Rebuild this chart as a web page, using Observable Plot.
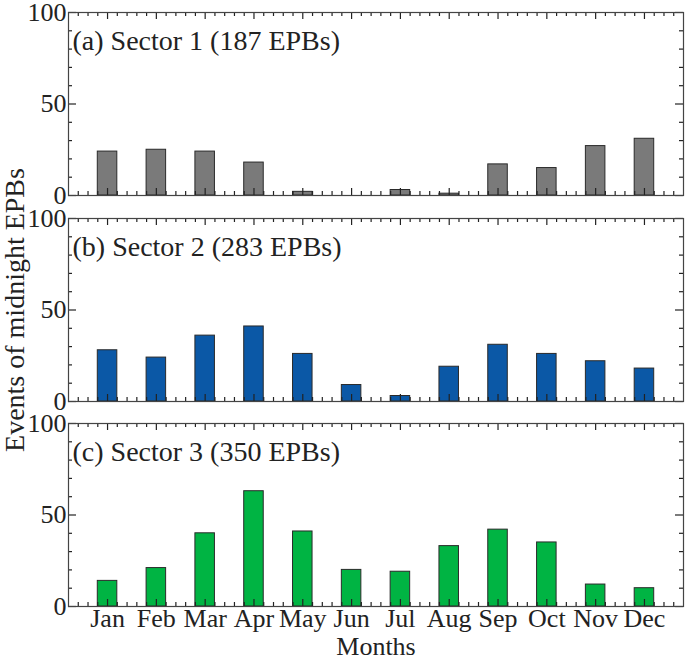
<!DOCTYPE html>
<html>
<head>
<meta charset="utf-8">
<script src="https://cdn.jsdelivr.net/npm/d3@7"></script>
<script src="https://cdn.jsdelivr.net/npm/@observablehq/plot@0.6"></script>
<style>
  body { margin: 0; background: #fff; }
  #chart { position: relative; width: 685px; height: 658px; }
  #chart svg { position: absolute; left: 0; overflow: visible; }
</style>
</head>
<body>
<div id="chart"></div>
<script>
var months = ['Jan', 'Feb', 'Mar', 'Apr', 'May', 'Jun', 'Jul', 'Aug', 'Sep', 'Oct', 'Nov', 'Dec'];
var sector1 = [24, 25, 24, 18, 2, 0, 3, 1, 17, 15, 27, 31];
var sector2 = [28, 24, 36, 41, 26, 9, 3, 19, 31, 26, 22, 18];
var sector3 = [14, 21, 40, 63, 41, 20, 19, 33, 42, 35, 12, 10];
var titles = ['(a) Sector 1 (187 EPBs)', '(b) Sector 2 (283 EPBs)', '(c) Sector 3 (350 EPBs)'];
var colors = ['#7a7a7a', '#0b58a6', '#00b443'];
var yMajor = [0, 50, 100];
var yMinor = [10, 20, 30, 40, 60, 70, 80, 90];
var xMajor = [1, 2, 3, 4, 5, 6, 7, 8, 9, 10, 11, 12];
var xMinor = d3.range(2, 64).map(function (i) { return i / 5; })
  .filter(function (t) { return Math.abs(t - Math.round(t)) > 1e-6; });

var font = '"Liberation Serif", "Times New Roman", serif';
var panels = [sector1, sector2, sector3];
var tops = [0, 206, 411];
var xDom = [0.2, 12.8], yDom = [0, 100];
var frameW = 615, frameH = 183;

// inward tick marks; len in px converted to data units
function xTicks(ticks, len) {
  var dy = len / frameH * (yDom[1] - yDom[0]);
  var o = { x: function (d) { return d; }, stroke: '#222', strokeWidth: 1.2 };
  return [
    Plot.ruleX(ticks, Object.assign({ y1: yDom[0], y2: yDom[0] + dy }, o)),
    Plot.ruleX(ticks, Object.assign({ y1: yDom[1], y2: yDom[1] - dy }, o))
  ];
}
function yTicks(ticks, len) {
  var dx = len / frameW * (xDom[1] - xDom[0]);
  var o = { y: function (d) { return d; }, stroke: '#222', strokeWidth: 1.2 };
  return [
    Plot.ruleY(ticks, Object.assign({ x1: xDom[0], x2: xDom[0] + dx }, o)),
    Plot.ruleY(ticks, Object.assign({ x1: xDom[1], x2: xDom[1] - dx }, o))
  ];
}

panels.forEach(function (values, p) {
  var rows = values.map(function (v, i) { return { m: i + 1, month: months[i], v: v }; });
  var last = p === panels.length - 1;
  var marks = [
    Plot.rectY(rows, {
      x1: function (d) { return d.m - 0.2; },
      x2: function (d) { return d.m + 0.2; },
      y1: 0, y2: 'v',
      fill: colors[p], stroke: '#2a2a2a', strokeWidth: 1
    })
  ].concat(
    xTicks(xMajor, 7), xTicks(xMinor, 4),
    yTicks(yMajor, 8), yTicks(yMinor, 4),
    [
      Plot.axisY(yMajor, { anchor: 'left', tickSize: 0, tickPadding: 2, label: null, fontSize: 26 }),
      Plot.frame({ stroke: '#444', strokeWidth: 1.2 }),
      Plot.text([titles[p]], {
        text: function (d) { return d; },
        frameAnchor: 'top-left', dx: 4, dy: 29,
        textAnchor: 'start', lineAnchor: 'middle', fontSize: 28
      })
    ]
  );
  if (last) {
    marks.push(
      Plot.axisX(xMajor, {
        anchor: 'bottom', tickSize: 0, tickPadding: 2, label: null, fontSize: 26,
        tickFormat: function (d) { return months[d - 1]; }
      }),
      Plot.text(['Months'], {
        text: function (d) { return d; },
        frameAnchor: 'bottom', dy: 40, lineAnchor: 'middle', fontSize: 26
      })
    );
  }
  if (p === 1) {
    marks.push(Plot.text(['Events of midnight EPBs'], {
      text: function (d) { return d; },
      frameAnchor: 'left', dx: -53, rotate: -90,
      textAnchor: 'middle', lineAnchor: 'middle', fontSize: 28
    }));
  }

  var svg = Plot.plot({
    width: 685,
    height: last ? 247 : 205,
    marginLeft: 68,
    marginRight: 2,
    marginTop: 12,
    marginBottom: last ? 52 : 10,
    x: { domain: xDom, label: null, axis: last ? undefined : null },
    y: { domain: yDom, label: null },
    style: { fontFamily: font, fontSize: '26px', color: '#222', background: 'transparent', overflow: 'visible' },
    marks: marks
  });
  svg.style.top = tops[p] + 'px';
  document.getElementById('chart').appendChild(svg);
});
</script>
</body>
</html>
